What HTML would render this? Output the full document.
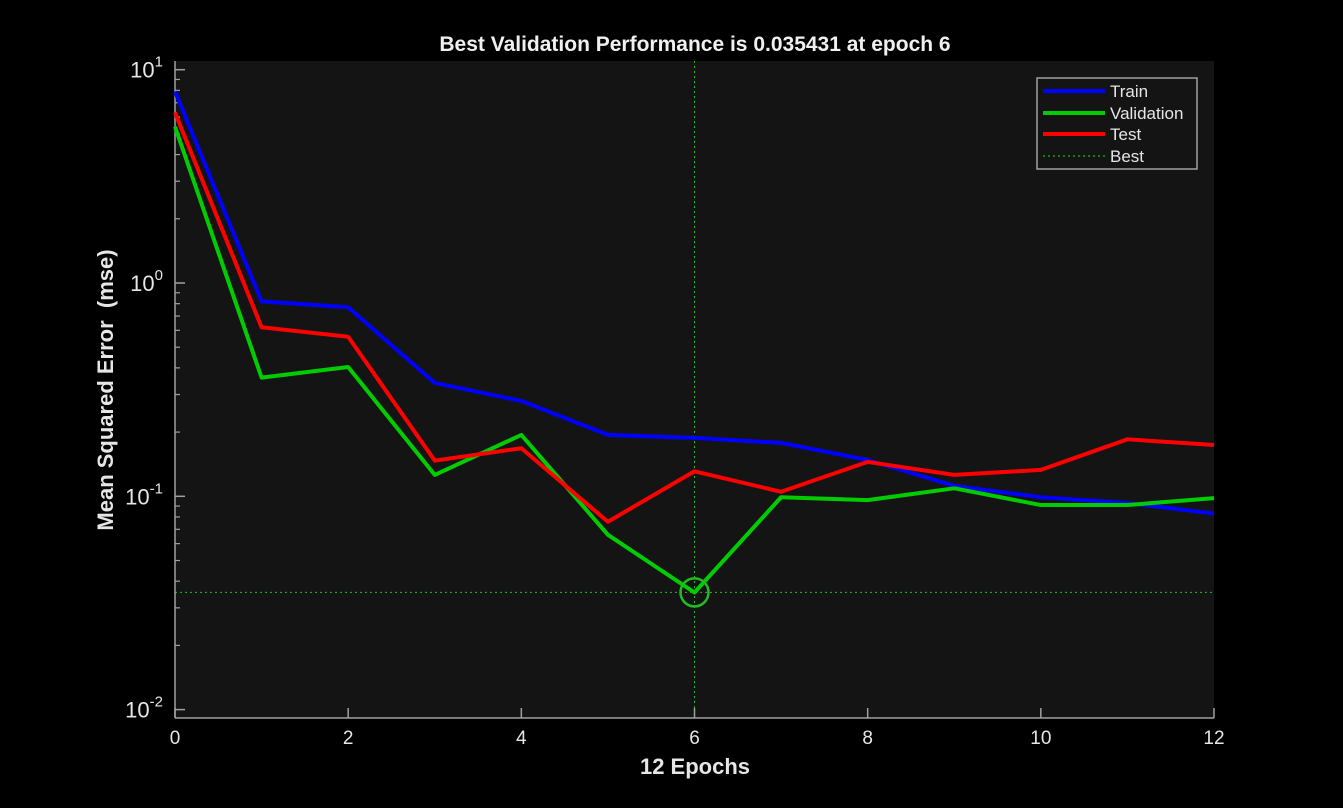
<!DOCTYPE html>
<html><head><meta charset="utf-8"><style>
body{margin:0;background:#000;}
svg{display:block;font-family:"Liberation Sans",Arial,sans-serif;}
</style></head><body>
<svg id="chart" width="1343" height="808">
<rect x="0" y="0" width="1343" height="808" fill="#000"/>
<rect x="175" y="61" width="1039" height="657" fill="#141414"/>
<g id="grid"></g>
<g id="axes"></g>
<g id="series"></g>
<text x="695" y="51" fill="#f0f0f0" font-size="21" font-weight="bold" text-anchor="middle">Best Validation Performance is 0.035431 at epoch 6</text>
<text x="695" y="774" fill="#e6e6e6" font-size="22" font-weight="bold" text-anchor="middle">12 Epochs</text>
<text transform="translate(113,390) rotate(-90)" fill="#e6e6e6" font-size="22" font-weight="bold" text-anchor="middle">Mean Squared Error&#160; (mse)</text>
<g>
<rect x="1037" y="78" width="160" height="91" fill="#141414" stroke="#a0a0a0" stroke-width="1.5"/>
<g><line x1="1043" y1="91" x2="1105" y2="91" stroke="#0000ff" stroke-width="4"/><text x="1110" y="97" fill="#e6e6e6" font-size="17">Train</text></g>
<g><line x1="1043" y1="113" x2="1105" y2="113" stroke="#00cc00" stroke-width="4"/><text x="1110" y="119" fill="#e6e6e6" font-size="17">Validation</text></g>
<g><line x1="1043" y1="134" x2="1105" y2="134" stroke="#ff0000" stroke-width="4"/><text x="1110" y="140" fill="#e6e6e6" font-size="17">Test</text></g>
<g><line x1="1043" y1="156" x2="1105" y2="156" stroke="#00ee00" stroke-width="1" stroke-dasharray="2,3"/><text x="1110" y="162" fill="#e6e6e6" font-size="17">Best</text></g>
</g>
</svg>
<script>
const epochs=[0,1,2,3,4,5,6,7,8,9,10,11,12];
const trainVals=[7.9,0.82,0.77,0.34,0.28,0.194,0.188,0.178,0.148,0.112,0.099,0.093,0.083];
const validVals=[5.4,0.36,0.404,0.126,0.194,0.066,0.0354,0.099,0.096,0.109,0.091,0.091,0.098];
const testVals=[6.3,0.62,0.56,0.147,0.168,0.076,0.131,0.105,0.145,0.126,0.133,0.185,0.174];
const xTicks=[0,2,4,6,8,10,12];
const yDecades=[-2,-1,0,1];
const bestEpoch=6;
const bestValue=0.035431;

const NS="http://www.w3.org/2000/svg";
const L=175,R=1214,T=61,B=718;
function sx(e){return L+(e-0)/(12-0)*(R-L);}
function sy(v){return 283-213.3*Math.log10(v);}
function mk(tag,attrs,parent){const el=document.createElementNS(NS,tag);for(const k in attrs)el.setAttribute(k,attrs[k]);parent.appendChild(el);return el;}
const axes=document.getElementById('axes'),grid=document.getElementById('grid'),ser=document.getElementById('series');

let ax=mk('line',{x1:L,y1:T,x2:L,y2:B,stroke:'#a0a0a0','stroke-width':1.5},axes);


let bx=mk('line',{x1:L,y1:B,x2:R,y2:B,stroke:'#a0a0a0','stroke-width':1.5},axes);



xTicks.forEach(t=>{
  const x=sx(t);
  mk('line',{x1:x,y1:B,x2:x,y2:B-10,stroke:'#a0a0a0','stroke-width':1.5},axes);
  const tx=mk('text',{x:x,y:B+26,fill:'#e6e6e6','font-size':19,'text-anchor':'middle'},axes);
  tx.textContent=t;
  
  
});
yDecades.forEach(d=>{
  const y=sy(Math.pow(10,d));
  mk('line',{x1:L,y1:y,x2:L+10,y2:y,stroke:'#a0a0a0','stroke-width':1.5},axes);
  const g=mk('text',{x:L-12,y:y+8,fill:'#e6e6e6','font-size':22,'text-anchor':'end'},axes);
  
  
  g.textContent='10';
  const s=mk('tspan',{dy:-11,'font-size':15},g);s.textContent=d;
  for(let m=2;m<=9;m++){
    const v=m*Math.pow(10,d);const yy=sy(v);
    if(yy<T||yy>B)continue;
    mk('line',{x1:L,y1:yy,x2:L+5,y2:yy,stroke:'#a0a0a0','stroke-width':1.2},axes);
  }
});
for(let m=2;m<=9;m++){const yy=sy(m*0.001);if(yy>=T&&yy<=B)mk('line',{x1:L,y1:yy,x2:L+5,y2:yy,stroke:'#a0a0a0','stroke-width':1.2},axes);}

const vb=mk('line',{x1:sx(bestEpoch),y1:T,x2:sx(bestEpoch),y2:B,stroke:'#22bb22','stroke-width':1,'stroke-dasharray':'2,3'},grid);


const hb=mk('line',{x1:L,y1:sy(bestValue),x2:R,y2:sy(bestValue),stroke:'#22bb22','stroke-width':1,'stroke-dasharray':'2,3'},grid);



function line(vals,color,name){
  const p=mk('polyline',{points:vals.map((v,i)=>sx(epochs[i])+','+sy(v)).join(' '),fill:'none',stroke:color,'stroke-width':4,'stroke-linejoin':'round'},ser);
  
  
}
line(trainVals,'#0000ff','train-line');
line(validVals,'#00cc00','validation-line');
line(testVals,'#ff0000','test-line');
const c=mk('circle',{cx:sx(bestEpoch),cy:sy(bestValue),r:14,fill:'none',stroke:'#22bb22','stroke-width':2.5},ser);


</script>
</body></html>
